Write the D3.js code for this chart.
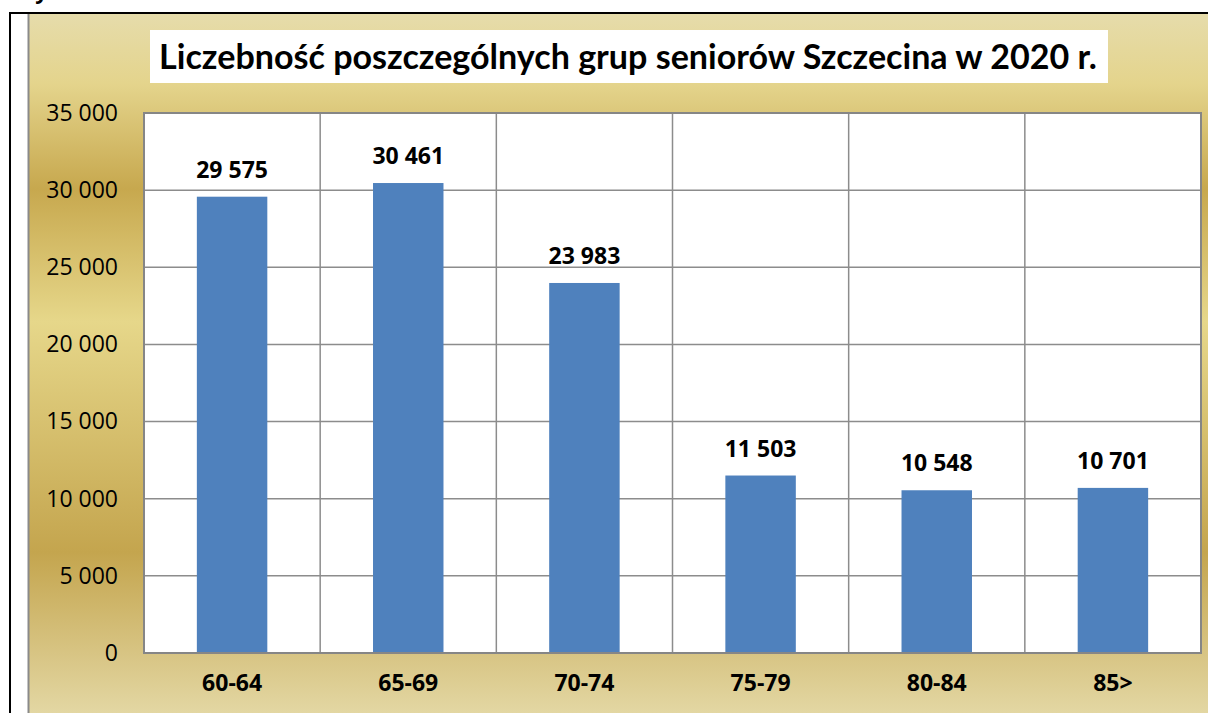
<!DOCTYPE html>
<html>
<head>
<meta charset="utf-8">
<script src="https://cdn.jsdelivr.net/npm/d3@7"></script>
<style>
  html, body { margin: 0; padding: 0; background: #fff; overflow: hidden; }
  svg { display: block; }
  text { font-family: "Open Sans", "Noto Sans", sans-serif; fill: #000; }
</style>
</head>
<body>
<script>
// data
var categories = ["60-64", "65-69", "70-74", "75-79", "80-84", "85>"];
var values = [29575, 30461, 23983, 11503, 10548, 10701];
var yTicks = [0, 5000, 10000, 15000, 20000, 25000, 30000, 35000];
var title = "Liczebność poszczególnych grup seniorów Szczecina w 2020 r.";

var width = 1208,
    height = 713;

// plot area
var plotLeft = 144, plotRight = 1201, plotTop = 113, plotBottom = 653;

var pl = d3.formatLocale({decimal: ",", thousands: " ", grouping: [3], currency: ["", ""]});
var fmt = pl.format(",d");

var svg = d3.select("body")
    .append("svg")
    .attr("width", width)
    .attr("height", height);

// gold background gradient
var defs = svg.append("defs");
var grad = defs.append("linearGradient")
    .attr("id", "gold")
    .attr("x1", 0).attr("y1", 0)
    .attr("x2", 0).attr("y2", 1);
[[0, "#e6dcab"], [0.1, "#e4d48c"], [0.25, "#c7a84e"], [0.44, "#e6d78a"], [0.77, "#c4a54e"], [1, "#e3d7a3"]]
    .forEach(function(s){
        grad.append("stop").attr("offset", s[0]).attr("stop-color", s[1]);
    });

// outer frame (caption above is cut off in the original too)
svg.append("text")
    .attr("x", 14)
    .attr("y", -1)
    .style("font-size", "22px")
    .style("font-weight", "bold")
    .text("Wykres 4.");

svg.append("line")
    .attr("x1", 9).attr("x2", width)
    .attr("y1", 13).attr("y2", 13)
    .attr("stroke", "#000").attr("stroke-width", 2);
svg.append("line")
    .attr("x1", 10).attr("x2", 10)
    .attr("y1", 12).attr("y2", height)
    .attr("stroke", "#000").attr("stroke-width", 2);

// chart area
svg.append("rect")
    .attr("x", 28).attr("y", 14)
    .attr("width", width - 28).attr("height", height - 14)
    .attr("fill", "url(#gold)");
svg.append("line")
    .attr("x1", 28.5).attr("x2", 28.5)
    .attr("y1", 14).attr("y2", height)
    .attr("stroke", "#8a8a8a").attr("stroke-width", 2);

// title box
svg.append("rect")
    .attr("x", 150).attr("y", 30)
    .attr("width", 958).attr("height", 53)
    .attr("fill", "#fff");
var t = svg.append("text")
    .attr("x", 628)
    .attr("y", 69)
    .attr("text-anchor", "middle")
    .style("font-family", "Lato, 'Open Sans', sans-serif")
    .style("font-weight", "bold")
    .style("font-size", "30px")
    .text(title);
// fit title to the width seen in the picture
var tw = t.node().getComputedTextLength();
t.style("font-size", (30 * 938 / tw).toFixed(2) + "px");

//scales
var x = d3.scaleBand()
    .domain(categories)
    .range([plotLeft, plotRight])
    .paddingInner(0.6)
    .paddingOuter(0.3);

var y = d3.scaleLinear()
    .domain([0, 35000])
    .range([plotBottom, plotTop]);

svg.append("rect")
    .attr("x", plotLeft).attr("y", plotTop)
    .attr("width", plotRight - plotLeft).attr("height", plotBottom - plotTop)
    .attr("fill", "#fff");

// gridlines
svg.append("g")
    .selectAll("line")
    .data(yTicks)
    .enter()
    .append("line")
    .attr("x1", plotLeft).attr("x2", plotRight)
    .attr("y1", function(d){ return y(d); })
    .attr("y2", function(d){ return y(d); })
    .attr("stroke", "#8c8c8c")
    .attr("stroke-width", 1.5);

svg.append("g")
    .selectAll("line")
    .data(categories.slice(1))
    .enter()
    .append("line")
    .attr("x1", function(d){ return x(d) + x.bandwidth() / 2 - x.step() / 2; })
    .attr("x2", function(d){ return x(d) + x.bandwidth() / 2 - x.step() / 2; })
    .attr("y1", plotTop).attr("y2", plotBottom)
    .attr("stroke", "#8c8c8c")
    .attr("stroke-width", 1.5);

// bars
svg.append("g")
    .selectAll("rect")
    .data(values)
    .enter()
    .append("rect")
    .attr("x", function(d, i){ return x(categories[i]); })
    .attr("y", function(d){ return y(d); })
    .attr("width", x.bandwidth())
    .attr("height", function(d){ return y(0) - y(d); })
    .attr("fill", "#4f81bd");

// value labels
svg.append("g")
    .selectAll("text")
    .data(values)
    .enter()
    .append("text")
    .attr("x", function(d, i){ return x(categories[i]) + x.bandwidth() / 2; })
    .attr("y", function(d){ return y(d) - 19; })
    .attr("text-anchor", "middle")
    .style("font-weight", "bold")
    .style("font-size", "23px")
    .text(function(d){ return fmt(d); });

// plot border
svg.append("rect")
    .attr("x", plotLeft).attr("y", plotTop)
    .attr("width", plotRight - plotLeft).attr("height", plotBottom - plotTop)
    .attr("fill", "none")
    .attr("stroke", "#868686")
    .attr("stroke-width", 2);

// axes
var yAxis = d3.axisLeft(y)
    .tickValues(yTicks)
    .tickFormat(fmt)
    .tickSize(0)
    .tickPadding(26);

var yg = svg.append("g")
    .attr("transform", "translate(" + plotLeft + ",0)")
    .call(yAxis);
yg.select(".domain").remove();
yg.selectAll("text")
    .style("font-family", "'Open Sans', sans-serif")
    .style("font-size", "23px")
    .attr("fill", "#000");

var xAxis = d3.axisBottom(x)
    .tickSize(0)
    .tickPadding(22);

var xg = svg.append("g")
    .attr("transform", "translate(0," + plotBottom + ")")
    .call(xAxis);
xg.select(".domain").remove();
xg.selectAll("text")
    .style("font-family", "'Open Sans', sans-serif")
    .style("font-size", "23px")
    .style("font-weight", "bold")
    .attr("fill", "#000");
</script>
</body>
</html>
